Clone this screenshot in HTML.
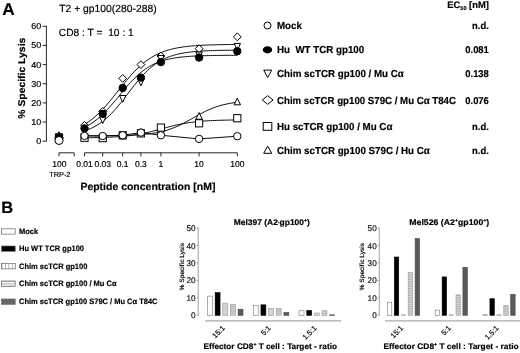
<!DOCTYPE html>
<html><head><meta charset="utf-8"><title>Figure</title>
<style>html,body{margin:0;padding:0;background:#fff;}body{width:520px;height:353px;overflow:hidden;}svg{display:block;filter:blur(0.35px);}text{font-family:"Liberation Sans",sans-serif;text-rendering:geometricPrecision;stroke:#000;stroke-width:0.18px;}</style>
</head><body>
<svg width="520" height="353" viewBox="0 0 520 353">
<defs>
<pattern id="pv" x="1.6" width="3.4" height="6" patternUnits="userSpaceOnUse"><rect width="3.4" height="6" fill="#fff"/><rect width="0.7" height="6" fill="#999"/></pattern>
<pattern id="ph" y="281.2" width="6" height="1.67" patternUnits="userSpaceOnUse"><rect width="6" height="1.67" fill="#fff"/><rect width="6" height="0.6" fill="#999"/></pattern>
<pattern id="pd" width="1.4" height="1.4" patternUnits="userSpaceOnUse"><rect width="1.4" height="1.4" fill="#999"/><rect width="0.7" height="0.7" fill="#333"/><rect x="0.7" y="0.7" width="0.7" height="0.7" fill="#333"/></pattern>
<pattern id="bh" width="6" height="1.8" patternUnits="userSpaceOnUse"><rect width="6" height="1.8" fill="#ddd"/><rect width="6" height="0.8" fill="#aaa"/></pattern>
</defs>
<rect width="520" height="353" fill="#fff"/>
<text x="2.3" y="14.6" font-size="17.2" font-weight="bold" text-anchor="start" fill="#000" >A</text>
<text x="59.3" y="11.6" font-size="10.4" text-anchor="start" fill="#000" textLength="97.3" lengthAdjust="spacingAndGlyphs" >T2 + gp100(280-288)</text>
<text x="58.8" y="35.5" font-size="10.4" text-anchor="start" fill="#000" textLength="75" lengthAdjust="spacingAndGlyphs" >CD8 : T =&#160; 10 : 1</text>
<path d="M46.4,25.899999999999984V141.6" stroke="#111" stroke-width="0.9" fill="none"/>
<path d="M42.6,141.20H46.4" stroke="#111" stroke-width="0.9"/>
<text x="41.3" y="144.2" font-size="8.6" text-anchor="end" fill="#000" textLength="5.0" lengthAdjust="spacingAndGlyphs" >0</text>
<path d="M42.6,122.05H46.4" stroke="#111" stroke-width="0.9"/>
<text x="41.3" y="125.05" font-size="8.6" text-anchor="end" fill="#000" textLength="10.0" lengthAdjust="spacingAndGlyphs" >10</text>
<path d="M42.6,102.90H46.4" stroke="#111" stroke-width="0.9"/>
<text x="41.3" y="105.9" font-size="8.6" text-anchor="end" fill="#000" textLength="10.0" lengthAdjust="spacingAndGlyphs" >20</text>
<path d="M42.6,83.75H46.4" stroke="#111" stroke-width="0.9"/>
<text x="41.3" y="86.75" font-size="8.6" text-anchor="end" fill="#000" textLength="10.0" lengthAdjust="spacingAndGlyphs" >30</text>
<path d="M42.6,64.60H46.4" stroke="#111" stroke-width="0.9"/>
<text x="41.3" y="67.6" font-size="8.6" text-anchor="end" fill="#000" textLength="10.0" lengthAdjust="spacingAndGlyphs" >40</text>
<path d="M42.6,45.45H46.4" stroke="#111" stroke-width="0.9"/>
<text x="41.3" y="48.45" font-size="8.6" text-anchor="end" fill="#000" textLength="10.0" lengthAdjust="spacingAndGlyphs" >50</text>
<path d="M42.6,26.30H46.4" stroke="#111" stroke-width="0.9"/>
<text x="41.3" y="29.3" font-size="8.6" text-anchor="end" fill="#000" textLength="10.0" lengthAdjust="spacingAndGlyphs" >60</text>
<text transform="translate(24.9,118.7) rotate(-90)" font-size="9.8" font-weight="bold" textLength="81" lengthAdjust="spacingAndGlyphs">% Specific Lysis</text>
<path d="M59.0,156.4V152.8H74.2V156.4" stroke="#111" stroke-width="0.9" fill="none"/>
<path d="M84.50,156.4V152.8H237.30V156.4" stroke="#111" stroke-width="0.9" fill="none"/>
<path d="M102.73,152.8V156.4" stroke="#111" stroke-width="0.9"/>
<path d="M122.70,152.8V156.4" stroke="#111" stroke-width="0.9"/>
<path d="M140.93,152.8V156.4" stroke="#111" stroke-width="0.9"/>
<path d="M160.90,152.8V156.4" stroke="#111" stroke-width="0.9"/>
<path d="M199.10,152.8V156.4" stroke="#111" stroke-width="0.9"/>
<text x="84.5" y="166.6" font-size="8.5" text-anchor="middle" fill="#000" >0.01</text>
<text x="102.73" y="166.6" font-size="8.5" text-anchor="middle" fill="#000" >0.03</text>
<text x="122.7" y="166.6" font-size="8.5" text-anchor="middle" fill="#000" >0.1</text>
<text x="140.93" y="166.6" font-size="8.5" text-anchor="middle" fill="#000" >0.3</text>
<text x="160.9" y="166.6" font-size="8.5" text-anchor="middle" fill="#000" >1</text>
<text x="199.1" y="166.6" font-size="8.5" text-anchor="middle" fill="#000" >10</text>
<text x="237.3" y="166.6" font-size="8.5" text-anchor="middle" fill="#000" >100</text>
<text x="59.4" y="166.6" font-size="8.5" text-anchor="middle" fill="#000" >100</text>
<text x="59.9" y="176.7" font-size="7.3" text-anchor="middle" fill="#000" >TRP-2</text>
<text x="80.4" y="190.1" font-size="10.4" font-weight="bold" text-anchor="start" fill="#000" textLength="135" lengthAdjust="spacingAndGlyphs" >Peptide concentration [nM]</text>
<path d="M84.50,124.45 L86.41,123.26 L88.32,121.97 L90.23,120.59 L92.14,119.12 L94.05,117.55 L95.96,115.89 L97.87,114.13 L99.78,112.27 L101.69,110.33 L103.60,108.30 L105.51,106.19 L107.42,104.01 L109.33,101.76 L111.24,99.45 L113.15,97.10 L115.06,94.72 L116.97,92.32 L118.88,89.91 L120.79,87.51 L122.70,85.12 L124.61,82.76 L126.52,80.44 L128.43,78.18 L130.34,75.98 L132.25,73.85 L134.16,71.81 L136.07,69.84 L137.98,67.97 L139.89,66.18 L141.80,64.50 L143.71,62.91 L145.62,61.41 L147.53,60.01 L149.44,58.71 L151.35,57.49 L153.26,56.36 L155.17,55.31 L157.08,54.35 L158.99,53.45 L160.90,52.63 L162.81,51.88 L164.72,51.19 L166.63,50.56 L168.54,49.98 L170.45,49.45 L172.36,48.97 L174.27,48.53 L176.18,48.13 L178.09,47.77 L180.00,47.44 L181.91,47.14 L183.82,46.87 L185.73,46.62 L187.64,46.40 L189.55,46.20 L191.46,46.01 L193.37,45.85 L195.28,45.70 L197.19,45.56 L199.10,45.44 L201.01,45.33 L202.92,45.23 L204.83,45.14 L206.74,45.06 L208.65,44.98 L210.56,44.92 L212.47,44.86 L214.38,44.80 L216.29,44.75 L218.20,44.71 L220.11,44.67 L222.02,44.63 L223.93,44.60 L225.84,44.57 L227.75,44.54 L229.66,44.52 L231.57,44.50 L233.48,44.48 L235.39,44.46 L237.30,44.45" stroke="#000" stroke-width="0.95" fill="none"/>
<path d="M84.50,127.32 L86.41,126.37 L88.32,125.32 L90.23,124.19 L92.14,122.96 L94.05,121.64 L95.96,120.21 L97.87,118.68 L99.78,117.05 L101.69,115.31 L103.60,113.48 L105.51,111.55 L107.42,109.53 L109.33,107.43 L111.24,105.26 L113.15,103.03 L115.06,100.75 L116.97,98.44 L118.88,96.11 L120.79,93.78 L122.70,91.47 L124.61,89.18 L126.52,86.93 L128.43,84.74 L130.34,82.61 L132.25,80.57 L134.16,78.61 L136.07,76.74 L137.98,74.97 L139.89,73.30 L141.80,71.73 L143.71,70.27 L145.62,68.91 L147.53,67.65 L149.44,66.49 L151.35,65.42 L153.26,64.43 L155.17,63.53 L157.08,62.71 L158.99,61.97 L160.90,61.29 L162.81,60.67 L164.72,60.11 L166.63,59.61 L168.54,59.16 L170.45,58.75 L172.36,58.38 L174.27,58.05 L176.18,57.75 L178.09,57.48 L180.00,57.24 L181.91,57.02 L183.82,56.83 L185.73,56.66 L187.64,56.50 L189.55,56.37 L191.46,56.24 L193.37,56.13 L195.28,56.03 L197.19,55.95 L199.10,55.87 L201.01,55.80 L202.92,55.73 L204.83,55.68 L206.74,55.63 L208.65,55.58 L210.56,55.54 L212.47,55.51 L214.38,55.48 L216.29,55.45 L218.20,55.42 L220.11,55.40 L222.02,55.38 L223.93,55.36 L225.84,55.35 L227.75,55.33 L229.66,55.32 L231.57,55.31 L233.48,55.30 L235.39,55.29 L237.30,55.28" stroke="#000" stroke-width="0.95" fill="none"/>
<path d="M84.50,130.93 L86.41,130.27 L88.32,129.54 L90.23,128.74 L92.14,127.86 L94.05,126.89 L95.96,125.84 L97.87,124.69 L99.78,123.44 L101.69,122.08 L103.60,120.62 L105.51,119.05 L107.42,117.37 L109.33,115.58 L111.24,113.68 L113.15,111.68 L115.06,109.58 L116.97,107.38 L118.88,105.10 L120.79,102.75 L122.70,100.35 L124.61,97.89 L126.52,95.41 L128.43,92.92 L130.34,90.42 L132.25,87.95 L134.16,85.51 L136.07,83.13 L137.98,80.81 L139.89,78.56 L141.80,76.40 L143.71,74.34 L145.62,72.38 L147.53,70.52 L149.44,68.78 L151.35,67.14 L153.26,65.61 L155.17,64.20 L157.08,62.89 L158.99,61.68 L160.90,60.57 L162.81,59.55 L164.72,58.62 L166.63,57.77 L168.54,56.99 L170.45,56.29 L172.36,55.66 L174.27,55.08 L176.18,54.56 L178.09,54.10 L180.00,53.67 L181.91,53.29 L183.82,52.95 L185.73,52.65 L187.64,52.37 L189.55,52.12 L191.46,51.90 L193.37,51.70 L195.28,51.53 L197.19,51.37 L199.10,51.23 L201.01,51.10 L202.92,50.99 L204.83,50.89 L206.74,50.79 L208.65,50.71 L210.56,50.64 L212.47,50.58 L214.38,50.52 L216.29,50.47 L218.20,50.42 L220.11,50.38 L222.02,50.35 L223.93,50.31 L225.84,50.28 L227.75,50.26 L229.66,50.24 L231.57,50.21 L233.48,50.20 L235.39,50.18 L237.30,50.17" stroke="#000" stroke-width="0.95" fill="none"/>
<path d="M84.50,135.80 L86.41,135.80 L88.32,135.80 L90.23,135.79 L92.14,135.78 L94.05,135.78 L95.96,135.77 L97.87,135.76 L99.78,135.75 L101.69,135.74 L103.60,135.72 L105.51,135.71 L107.42,135.69 L109.33,135.67 L111.24,135.65 L113.15,135.63 L115.06,135.60 L116.97,135.57 L118.88,135.54 L120.79,135.50 L122.70,135.45 L124.61,135.40 L126.52,135.35 L128.43,135.28 L130.34,135.21 L132.25,135.13 L134.16,135.04 L136.07,134.94 L137.98,134.83 L139.89,134.70 L141.80,134.55 L143.71,134.39 L145.62,134.21 L147.53,134.01 L149.44,133.79 L151.35,133.53 L153.26,133.26 L155.17,132.95 L157.08,132.60 L158.99,132.22 L160.90,131.80 L162.81,131.34 L164.72,130.84 L166.63,130.29 L168.54,129.69 L170.45,129.04 L172.36,128.34 L174.27,127.59 L176.18,126.78 L178.09,125.93 L180.00,125.03 L181.91,124.09 L183.82,123.10 L185.73,122.08 L187.64,121.04 L189.55,119.97 L191.46,118.89 L193.37,117.80 L195.28,116.71 L197.19,115.64 L199.10,114.58 L201.01,113.55 L202.92,112.55 L204.83,111.59 L206.74,110.68 L208.65,109.80 L210.56,108.98 L212.47,108.21 L214.38,107.49 L216.29,106.82 L218.20,106.20 L220.11,105.63 L222.02,105.10 L223.93,104.63 L225.84,104.19 L227.75,103.79 L229.66,103.44 L231.57,103.11 L233.48,102.82 L235.39,102.56 L237.30,102.33" stroke="#000" stroke-width="0.95" fill="none"/>
<path d="M84.50,137.77 L86.41,137.75 L88.32,137.73 L90.23,137.70 L92.14,137.67 L94.05,137.64 L95.96,137.60 L97.87,137.56 L99.78,137.52 L101.69,137.46 L103.60,137.41 L105.51,137.34 L107.42,137.27 L109.33,137.20 L111.24,137.11 L113.15,137.01 L115.06,136.90 L116.97,136.79 L118.88,136.65 L120.79,136.51 L122.70,136.35 L124.61,136.17 L126.52,135.98 L128.43,135.77 L130.34,135.54 L132.25,135.29 L134.16,135.02 L136.07,134.72 L137.98,134.41 L139.89,134.07 L141.80,133.70 L143.71,133.32 L145.62,132.91 L147.53,132.48 L149.44,132.03 L151.35,131.56 L153.26,131.07 L155.17,130.58 L157.08,130.07 L158.99,129.55 L160.90,129.03 L162.81,128.50 L164.72,127.98 L166.63,127.47 L168.54,126.96 L170.45,126.47 L172.36,125.99 L174.27,125.52 L176.18,125.08 L178.09,124.66 L180.00,124.25 L181.91,123.88 L183.82,123.52 L185.73,123.19 L187.64,122.88 L189.55,122.59 L191.46,122.33 L193.37,122.08 L195.28,121.86 L197.19,121.65 L199.10,121.47 L201.01,121.30 L202.92,121.14 L204.83,121.00 L206.74,120.87 L208.65,120.76 L210.56,120.65 L212.47,120.56 L214.38,120.48 L216.29,120.40 L218.20,120.33 L220.11,120.27 L222.02,120.22 L223.93,120.17 L225.84,120.12 L227.75,120.08 L229.66,120.05 L231.57,120.02 L233.48,119.99 L235.39,119.96 L237.30,119.94" stroke="#000" stroke-width="0.95" fill="none"/>
<path d="M84.50,135.84 L102.73,136.03 L122.70,135.26 L140.93,132.58 L160.90,135.26 L199.10,138.90 L237.30,136.22" stroke="#000" stroke-width="0.95" fill="none"/>
<path d="M84.50,132.48L87.70,139.20H81.30Z" fill="#fff" stroke="#000" stroke-width="1.0"/>
<path d="M102.73,132.48L105.93,139.20H99.53Z" fill="#fff" stroke="#000" stroke-width="1.0"/>
<path d="M122.70,132.09L125.90,138.81H119.50Z" fill="#fff" stroke="#000" stroke-width="1.0"/>
<path d="M140.93,128.65L144.13,135.37H137.73Z" fill="#fff" stroke="#000" stroke-width="1.0"/>
<path d="M160.90,127.31L164.10,134.03H157.70Z" fill="#fff" stroke="#000" stroke-width="1.0"/>
<path d="M199.10,112.56L202.30,119.28H195.90Z" fill="#fff" stroke="#000" stroke-width="1.0"/>
<path d="M237.30,98.10L240.50,104.82H234.10Z" fill="#fff" stroke="#000" stroke-width="1.0"/>
<rect x="80.90" y="134.15" width="7.2" height="7.2" fill="#fff" stroke="#000" stroke-width="1.0"/>
<rect x="99.13" y="134.54" width="7.2" height="7.2" fill="#fff" stroke="#000" stroke-width="1.0"/>
<rect x="119.10" y="131.66" width="7.2" height="7.2" fill="#fff" stroke="#000" stroke-width="1.0"/>
<rect x="137.33" y="129.75" width="7.2" height="7.2" fill="#fff" stroke="#000" stroke-width="1.0"/>
<rect x="157.30" y="124.00" width="7.2" height="7.2" fill="#fff" stroke="#000" stroke-width="1.0"/>
<rect x="195.50" y="119.69" width="7.2" height="7.2" fill="#fff" stroke="#000" stroke-width="1.0"/>
<rect x="233.70" y="114.62" width="7.2" height="7.2" fill="#fff" stroke="#000" stroke-width="1.0"/>
<path d="M84.50,121.41L88.40,125.31L84.50,129.21L80.60,125.31Z" fill="#fff" stroke="#000" stroke-width="1.0"/>
<path d="M102.73,107.43L106.63,111.33L102.73,115.23L98.83,111.33Z" fill="#fff" stroke="#000" stroke-width="1.0"/>
<path d="M122.70,74.49L126.60,78.39L122.70,82.29L118.80,78.39Z" fill="#fff" stroke="#000" stroke-width="1.0"/>
<path d="M140.93,60.70L144.83,64.60L140.93,68.50L137.03,64.60Z" fill="#fff" stroke="#000" stroke-width="1.0"/>
<path d="M160.90,52.08L164.80,55.98L160.90,59.88L157.00,55.98Z" fill="#fff" stroke="#000" stroke-width="1.0"/>
<path d="M199.10,44.81L203.00,48.71L199.10,52.61L195.20,48.71Z" fill="#fff" stroke="#000" stroke-width="1.0"/>
<path d="M237.30,32.93L241.20,36.83L237.30,40.73L233.40,36.83Z" fill="#fff" stroke="#000" stroke-width="1.0"/>
<path d="M84.50,134.03L87.70,127.31H81.30Z" fill="#fff" stroke="#000" stroke-width="1.0"/>
<path d="M102.73,123.49L105.93,116.77H99.53Z" fill="#fff" stroke="#000" stroke-width="1.0"/>
<path d="M122.70,102.24L125.90,95.52H119.50Z" fill="#fff" stroke="#000" stroke-width="1.0"/>
<path d="M140.93,85.77L144.13,79.05H137.73Z" fill="#fff" stroke="#000" stroke-width="1.0"/>
<path d="M160.90,62.21L164.10,55.49H157.70Z" fill="#fff" stroke="#000" stroke-width="1.0"/>
<path d="M199.10,58.77L202.30,52.05H195.90Z" fill="#fff" stroke="#000" stroke-width="1.0"/>
<path d="M237.30,50.15L240.50,43.43H234.10Z" fill="#fff" stroke="#000" stroke-width="1.0"/>
<circle cx="84.50" cy="128.37" r="3.7" fill="#000" stroke="#000" stroke-width="1.0"/>
<circle cx="102.73" cy="113.82" r="3.7" fill="#000" stroke="#000" stroke-width="1.0"/>
<circle cx="122.70" cy="87.96" r="3.7" fill="#000" stroke="#000" stroke-width="1.0"/>
<circle cx="140.93" cy="77.62" r="3.7" fill="#000" stroke="#000" stroke-width="1.0"/>
<circle cx="160.90" cy="62.11" r="3.7" fill="#000" stroke="#000" stroke-width="1.0"/>
<circle cx="199.10" cy="57.51" r="3.7" fill="#000" stroke="#000" stroke-width="1.0"/>
<circle cx="237.30" cy="51.19" r="3.7" fill="#000" stroke="#000" stroke-width="1.0"/>
<circle cx="84.50" cy="135.84" r="3.7" fill="#fff" stroke="#000" stroke-width="1.0"/>
<circle cx="102.73" cy="136.03" r="3.7" fill="#fff" stroke="#000" stroke-width="1.0"/>
<circle cx="122.70" cy="135.26" r="3.7" fill="#fff" stroke="#000" stroke-width="1.0"/>
<circle cx="140.93" cy="132.58" r="3.7" fill="#fff" stroke="#000" stroke-width="1.0"/>
<circle cx="160.90" cy="135.26" r="3.7" fill="#fff" stroke="#000" stroke-width="1.0"/>
<circle cx="199.10" cy="138.90" r="3.7" fill="#fff" stroke="#000" stroke-width="1.0"/>
<circle cx="237.30" cy="136.22" r="3.7" fill="#fff" stroke="#000" stroke-width="1.0"/>
<path d="M59.00,131.71L62.20,138.43H55.80Z" fill="#fff" stroke="#000" stroke-width="1.0"/>
<rect x="55.40" y="133.96" width="7.2" height="7.2" fill="#fff" stroke="#000" stroke-width="1.0"/>
<path d="M59.00,133.47L62.90,137.37L59.00,141.27L55.10,137.37Z" fill="#fff" stroke="#000" stroke-width="1.0"/>
<path d="M59.00,140.73L62.20,134.01H55.80Z" fill="#fff" stroke="#000" stroke-width="1.0"/>
<circle cx="59.00" cy="138.33" r="4.0" fill="#000" stroke="#000" stroke-width="1.0"/>
<circle cx="59.00" cy="140.49" r="4.0" fill="#fff" stroke="#000" stroke-width="1.0"/>
<circle cx="267.50" cy="25.50" r="3.5" fill="#fff" stroke="#000" stroke-width="1.0"/>
<text x="277" y="28.7" font-size="10.2" font-weight="bold" text-anchor="start" fill="#000" textLength="24.9" lengthAdjust="spacingAndGlyphs" >Mock</text>
<text x="488.8" y="28.7" font-size="9.9" font-weight="bold" text-anchor="end" fill="#000" textLength="16.7" lengthAdjust="spacingAndGlyphs" >n.d.</text>
<ellipse cx="267.5" cy="49.8" rx="4.7" ry="3.6" fill="#000"/>
<text x="277" y="53.4" font-size="10.2" font-weight="bold" text-anchor="start" fill="#000" textLength="87.2" lengthAdjust="spacingAndGlyphs" >Hu&#160; WT TCR gp100</text>
<text x="488.8" y="53.4" font-size="9.9" font-weight="bold" text-anchor="end" fill="#000" textLength="23.5" lengthAdjust="spacingAndGlyphs" >0.081</text>
<path d="M267.70,77.50L271.70,70.10H263.70Z" fill="#fff" stroke="#000" stroke-width="1.0"/>
<text x="277" y="77.10000000000001" font-size="10.2" font-weight="bold" text-anchor="start" fill="#000" textLength="126.8" lengthAdjust="spacingAndGlyphs" >Chim scTCR gp100 / Mu C&#945;</text>
<text x="488.8" y="77.10000000000001" font-size="9.9" font-weight="bold" text-anchor="end" fill="#000" textLength="23.5" lengthAdjust="spacingAndGlyphs" >0.138</text>
<path d="M267.70,95.70L273.10,100.00L267.70,104.30L262.30,100.00Z" fill="#fff" stroke="#000" stroke-width="1.0"/>
<text x="277" y="103.80000000000001" font-size="10.2" font-weight="bold" text-anchor="start" fill="#000" textLength="179" lengthAdjust="spacingAndGlyphs" >Chim scTCR gp100 S79C / Mu C&#945; T84C</text>
<text x="488.8" y="103.80000000000001" font-size="9.9" font-weight="bold" text-anchor="end" fill="#000" textLength="23.5" lengthAdjust="spacingAndGlyphs" >0.076</text>
<rect x="263.20" y="122.50" width="8.6" height="7.8" fill="#fff" stroke="#000" stroke-width="1.0"/>
<text x="277" y="130.4" font-size="10.2" font-weight="bold" text-anchor="start" fill="#000" textLength="115.4" lengthAdjust="spacingAndGlyphs" >Hu scTCR gp100 / Mu C&#945;</text>
<text x="488.8" y="130.4" font-size="9.9" font-weight="bold" text-anchor="end" fill="#000" textLength="16.7" lengthAdjust="spacingAndGlyphs" >n.d.</text>
<path d="M267.70,146.10L271.70,153.30H263.70Z" fill="#fff" stroke="#000" stroke-width="1.0"/>
<text x="277" y="153.6" font-size="10.2" font-weight="bold" text-anchor="start" fill="#000" textLength="152.8" lengthAdjust="spacingAndGlyphs" >Chim scTCR gp100 S79C / Hu C&#945;</text>
<text x="488.8" y="153.6" font-size="9.9" font-weight="bold" text-anchor="end" fill="#000" textLength="16.7" lengthAdjust="spacingAndGlyphs" >n.d.</text>
<text x="447.3" y="8.2" font-size="9.4" font-weight="bold">EC<tspan font-size="5.5" dy="1.6">50</tspan><tspan dy="-1.6"> [nM]</tspan></text>
<text x="1.3" y="213.0" font-size="16.5" font-weight="bold" text-anchor="start" fill="#000" >B</text>
<rect x="1.6" y="228.80" width="13.6" height="5.3" fill="#fff" stroke="#666" stroke-width="0.7"/>
<text x="19" y="234.0" font-size="7.8" font-weight="bold" text-anchor="start" fill="#000" textLength="19.2" lengthAdjust="spacingAndGlyphs" >Mock</text>
<rect x="1.6" y="246.00" width="13.6" height="5.3" fill="#000" stroke="#666" stroke-width="0.7"/>
<text x="19" y="251.2" font-size="7.8" font-weight="bold" text-anchor="start" fill="#000" textLength="65.0" lengthAdjust="spacingAndGlyphs" >Hu WT TCR gp100</text>
<rect x="1.6" y="263.60" width="13.6" height="5.3" fill="url(#pv)" stroke="#666" stroke-width="0.7"/>
<text x="19" y="268.8" font-size="7.8" font-weight="bold" text-anchor="start" fill="#000" textLength="68.3" lengthAdjust="spacingAndGlyphs" >Chim scTCR gp100</text>
<rect x="1.6" y="281.00" width="13.6" height="5.3" fill="url(#ph)" stroke="#666" stroke-width="0.7"/>
<text x="19" y="286.2" font-size="7.8" font-weight="bold" text-anchor="start" fill="#000" textLength="97.5" lengthAdjust="spacingAndGlyphs" >Chim scTCR gp100 / Mu C&#945;</text>
<rect x="1.6" y="299.00" width="13.6" height="5.3" fill="url(#pd)" stroke="#666" stroke-width="0.7"/>
<text x="19" y="304.2" font-size="7.8" font-weight="bold" text-anchor="start" fill="#000" textLength="138.5" lengthAdjust="spacingAndGlyphs" >Chim scTCR gp100 S79C / Mu C&#945; T84C</text>
<path d="M198.2,227.75V315.6" stroke="#8a8a8a" stroke-width="0.8"/>
<path d="M196.6,315.30H198.2" stroke="#8a8a8a" stroke-width="0.8"/>
<text x="195.6" y="318.3" font-size="8.3" text-anchor="end" fill="#222" textLength="4.55" lengthAdjust="spacingAndGlyphs" >0</text>
<path d="M196.6,297.85H198.2" stroke="#8a8a8a" stroke-width="0.8"/>
<text x="195.6" y="300.85" font-size="8.3" text-anchor="end" fill="#222" textLength="9.1" lengthAdjust="spacingAndGlyphs" >10</text>
<path d="M196.6,280.40H198.2" stroke="#8a8a8a" stroke-width="0.8"/>
<text x="195.6" y="283.4" font-size="8.3" text-anchor="end" fill="#222" textLength="9.1" lengthAdjust="spacingAndGlyphs" >20</text>
<path d="M196.6,262.95H198.2" stroke="#8a8a8a" stroke-width="0.8"/>
<text x="195.6" y="265.95" font-size="8.3" text-anchor="end" fill="#222" textLength="9.1" lengthAdjust="spacingAndGlyphs" >30</text>
<path d="M196.6,245.50H198.2" stroke="#8a8a8a" stroke-width="0.8"/>
<text x="195.6" y="248.5" font-size="8.3" text-anchor="end" fill="#222" textLength="9.1" lengthAdjust="spacingAndGlyphs" >40</text>
<path d="M196.6,228.05H198.2" stroke="#8a8a8a" stroke-width="0.8"/>
<text x="195.6" y="231.05" font-size="8.3" text-anchor="end" fill="#222" textLength="9.1" lengthAdjust="spacingAndGlyphs" >50</text>
<path d="M205.0,320.9H341" stroke="#8a8a8a" stroke-width="0.9"/>
<text x="233.8" y="224.6" font-size="8.2" font-weight="bold" text-anchor="start" fill="#000" textLength="76" lengthAdjust="spacingAndGlyphs" >Mel397 (A2<tspan font-size="5" dy="-1">-</tspan><tspan dy="1">gp100</tspan><tspan font-size="5" dy="-3">+</tspan><tspan dy="3">)</tspan></text>
<text transform="translate(183.9,290.4) rotate(-90)" font-size="6.2" fill="#000" textLength="47.5" lengthAdjust="spacingAndGlyphs">% Specific Lysis</text>
<rect x="207.50" y="296.11" width="4.90" height="19.20" fill="#fff" stroke="#777" stroke-width="0.6"/>
<rect x="215.15" y="292.62" width="4.90" height="22.69" fill="#000" stroke="#000" stroke-width="0.6"/>
<rect x="222.80" y="303.09" width="4.90" height="12.21" fill="#d4d4d4" stroke="#999" stroke-width="0.6"/>
<rect x="230.45" y="304.31" width="4.90" height="10.99" fill="url(#bh)" stroke="#999" stroke-width="0.6"/>
<rect x="238.10" y="309.19" width="4.90" height="6.11" fill="#5a5a5a" stroke="#444" stroke-width="0.6"/>
<text transform="translate(225.45,328.6) rotate(-45)" font-size="7.4" text-anchor="end" fill="#000">15:1</text>
<rect x="253.30" y="305.35" width="4.90" height="9.95" fill="#fff" stroke="#777" stroke-width="0.6"/>
<rect x="260.95" y="304.83" width="4.90" height="10.47" fill="#000" stroke="#000" stroke-width="0.6"/>
<rect x="268.60" y="308.32" width="4.90" height="6.98" fill="#d4d4d4" stroke="#999" stroke-width="0.6"/>
<rect x="276.25" y="308.32" width="4.90" height="6.98" fill="url(#bh)" stroke="#999" stroke-width="0.6"/>
<rect x="283.90" y="312.51" width="4.90" height="2.79" fill="#5a5a5a" stroke="#444" stroke-width="0.6"/>
<text transform="translate(271.25,328.6) rotate(-45)" font-size="7.4" text-anchor="end" fill="#000">5:1</text>
<rect x="299.10" y="310.76" width="4.90" height="4.54" fill="#fff" stroke="#777" stroke-width="0.6"/>
<rect x="306.75" y="310.41" width="4.90" height="4.89" fill="#000" stroke="#000" stroke-width="0.6"/>
<rect x="314.40" y="313.03" width="4.90" height="2.27" fill="#d4d4d4" stroke="#999" stroke-width="0.6"/>
<rect x="322.05" y="310.76" width="4.90" height="4.54" fill="url(#bh)" stroke="#999" stroke-width="0.6"/>
<rect x="329.70" y="314.80" width="4.90" height="0.50" fill="#5a5a5a" stroke="#444" stroke-width="0.6"/>
<text transform="translate(317.05,328.6) rotate(-45)" font-size="7.4" text-anchor="end" fill="#000">1.5:1</text>
<text x="203.4" y="348.6" font-size="8.1" font-weight="bold" textLength="133.6" lengthAdjust="spacingAndGlyphs">Effector CD8<tspan font-size="5" dy="-3">+</tspan><tspan dy="3"> T cell : Target - ratio</tspan></text>
<path d="M379.3,227.75V315.6" stroke="#8a8a8a" stroke-width="0.8"/>
<path d="M377.7,315.30H379.3" stroke="#8a8a8a" stroke-width="0.8"/>
<text x="376.7" y="318.3" font-size="8.3" text-anchor="end" fill="#222" textLength="4.55" lengthAdjust="spacingAndGlyphs" >0</text>
<path d="M377.7,297.85H379.3" stroke="#8a8a8a" stroke-width="0.8"/>
<text x="376.7" y="300.85" font-size="8.3" text-anchor="end" fill="#222" textLength="9.1" lengthAdjust="spacingAndGlyphs" >10</text>
<path d="M377.7,280.40H379.3" stroke="#8a8a8a" stroke-width="0.8"/>
<text x="376.7" y="283.4" font-size="8.3" text-anchor="end" fill="#222" textLength="9.1" lengthAdjust="spacingAndGlyphs" >20</text>
<path d="M377.7,262.95H379.3" stroke="#8a8a8a" stroke-width="0.8"/>
<text x="376.7" y="265.95" font-size="8.3" text-anchor="end" fill="#222" textLength="9.1" lengthAdjust="spacingAndGlyphs" >30</text>
<path d="M377.7,245.50H379.3" stroke="#8a8a8a" stroke-width="0.8"/>
<text x="376.7" y="248.5" font-size="8.3" text-anchor="end" fill="#222" textLength="9.1" lengthAdjust="spacingAndGlyphs" >40</text>
<path d="M377.7,228.05H379.3" stroke="#8a8a8a" stroke-width="0.8"/>
<text x="376.7" y="231.05" font-size="8.3" text-anchor="end" fill="#222" textLength="9.1" lengthAdjust="spacingAndGlyphs" >50</text>
<path d="M384.90000000000003,320.9H520" stroke="#8a8a8a" stroke-width="0.9"/>
<text x="409.3" y="224.6" font-size="8.2" font-weight="bold" text-anchor="start" fill="#000" textLength="80" lengthAdjust="spacingAndGlyphs" >Mel526 (A2<tspan font-size="5" dy="-3">+</tspan><tspan dy="3">gp100</tspan><tspan font-size="5" dy="-3">+</tspan><tspan dy="3">)</tspan></text>
<text transform="translate(363.9,290.4) rotate(-90)" font-size="6.2" fill="#000" textLength="47.5" lengthAdjust="spacingAndGlyphs">% Specific Lysis</text>
<rect x="387.40" y="302.21" width="4.40" height="13.09" fill="#fff" stroke="#777" stroke-width="0.6"/>
<rect x="394.33" y="257.02" width="4.40" height="58.28" fill="#000" stroke="#000" stroke-width="0.6"/>
<rect x="401.26" y="314.80" width="4.40" height="0.50" fill="#d4d4d4" stroke="#999" stroke-width="0.6"/>
<rect x="408.19" y="272.55" width="4.40" height="42.75" fill="url(#bh)" stroke="#999" stroke-width="0.6"/>
<rect x="415.12" y="238.52" width="4.40" height="76.78" fill="#5a5a5a" stroke="#444" stroke-width="0.6"/>
<text transform="translate(403.66,328.6) rotate(-45)" font-size="7.4" text-anchor="end" fill="#000">15:1</text>
<rect x="435.20" y="310.06" width="4.40" height="5.24" fill="#fff" stroke="#777" stroke-width="0.6"/>
<rect x="442.13" y="276.91" width="4.40" height="38.39" fill="#000" stroke="#000" stroke-width="0.6"/>
<rect x="449.06" y="314.80" width="4.40" height="0.50" fill="#d4d4d4" stroke="#999" stroke-width="0.6"/>
<rect x="455.99" y="294.88" width="4.40" height="20.42" fill="url(#bh)" stroke="#999" stroke-width="0.6"/>
<rect x="462.92" y="267.31" width="4.40" height="47.99" fill="#5a5a5a" stroke="#444" stroke-width="0.6"/>
<text transform="translate(451.46,328.6) rotate(-45)" font-size="7.4" text-anchor="end" fill="#000">5:1</text>
<rect x="483.00" y="314.80" width="4.40" height="0.50" fill="#fff" stroke="#777" stroke-width="0.6"/>
<rect x="489.93" y="298.72" width="4.40" height="16.58" fill="#000" stroke="#000" stroke-width="0.6"/>
<rect x="496.86" y="314.80" width="4.40" height="0.50" fill="#d4d4d4" stroke="#999" stroke-width="0.6"/>
<rect x="503.79" y="305.70" width="4.40" height="9.60" fill="url(#bh)" stroke="#999" stroke-width="0.6"/>
<rect x="510.72" y="294.36" width="4.40" height="20.94" fill="#5a5a5a" stroke="#444" stroke-width="0.6"/>
<text transform="translate(499.26,328.6) rotate(-45)" font-size="7.4" text-anchor="end" fill="#000">1.5:1</text>
<text x="383.4" y="348.6" font-size="8.1" font-weight="bold" textLength="135.30000000000007" lengthAdjust="spacingAndGlyphs">Effector CD8<tspan font-size="5" dy="-3">+</tspan><tspan dy="3"> T cell : Target - ratio</tspan></text>
</svg>
</body></html>
